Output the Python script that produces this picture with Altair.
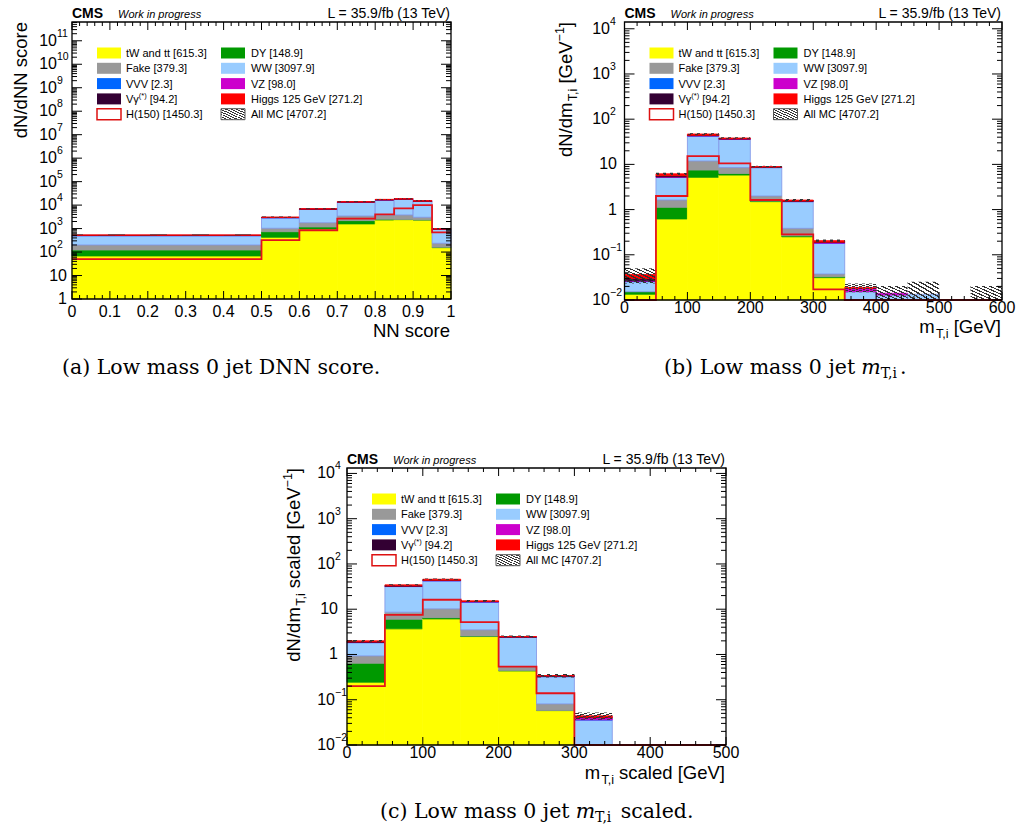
import altair as alt
import pandas as pd

SANS = "Liberation Sans"
SERIF = "DejaVu Serif"

# ---------------- data ----------------
PROCS = ["tW and tt", "DY", "Fake", "WW", "VVV", "VZ", "Vgamma", "Higgs 125 GeV"]
COLORS = ["#ffff00", "#009900", "#999999", "#99ccff", "#0066ff", "#cc00cc", "#330033", "#ff0000"]
STROKES = ["#ffff00", "#009900", "#999999", "#7f93e6", "#0066ff", "#cc00cc", "#330033", "#ff0000"]

# Panel (a): DNN score
A_EDGES = [0, 0.5, 0.6, 0.7, 0.8, 0.85, 0.9, 0.95, 1.0]
A_TW = [68, 426, 960, 1580, 2320, 2400, 2320, 154]
A_DY = [54, 309, 210, 600, 180, 50, 30, 6]
A_FAKE = [78, 295, 610, 1260, 1300, 1350, 680, 76]
A_WW = [300, 1870, 4820, 9760, 12700, 13900, 11470, 694]
A_VVV = [0.5, 2, 4, 6, 8, 8, 6, 0.5]
A_VZ = [8, 40, 90, 200, 250, 250, 200, 15]
A_VG = [10, 50, 100, 150, 150, 150, 100, 10]
A_HIGGS = [20, 100, 250, 500, 650, 700, 600, 40]
A_H150 = [50, 325, 850, 2640, 4060, 7300, 10000, 690]
A_ERR = [25, 150, 300, 600, 700, 750, 650, 50]

# Panel (b): mT,i
B_EDGES = [0, 50, 100, 150, 200, 250, 300, 350, 400, 450, 500, 550, 600]
B_TW = [0.0134, 0.62, 5.18, 5.8, 1.50, 0.25, 0.0312, 0, 0, 0, 0, 0]
B_DY = [0.0018, 0.50, 2.32, 0.5, 0.05, 0.014, 0.0015, 0, 0, 0, 0, 0]
B_FAKE = [0, 0.51, 4.4, 2.2, 0.45, 0.121, 0.0049, 0, 0, 0, 0, 0]
B_WW = [0.0102, 3.55, 30.7, 27.4, 6.5, 1.115, 0.142, 0.0153, 0.0129, 0.0134, 0, 0]
B_VVV = [0.0005, 0.01, 0.03, 0.03, 0.01, 0.005, 0.001, 0, 0, 0, 0, 0]
B_VZ = [0.0005, 0.1, 0.6, 0.6, 0.15, 0.03, 0.008, 0.0027, 0.0012, 0, 0, 0]
B_VG = [0.0033, 0.3, 0.8, 0.3, 0.05, 0.01, 0.002, 0, 0, 0, 0, 0]
B_HIGGS = [0.007, 0.6, 3.0, 1.5, 0.2, 0.08, 0.015, 0.001, 0, 0, 0, 0]
B_H150 = [0, 2.0, 15.3, 10.5, 1.63, 0.284, 0.0172, 0, 0, 0, 0, 0]
B_ERR = [0.0135, 0.35, 2.0, 1.6, 0.4, 0.1, 0.012, 0.0042, 0.0063, 0.012, 0, 0.0204]

# Panel (c): mT,i scaled
C_EDGES = [0, 50, 100, 150, 200, 250, 300, 350, 400, 450, 500]
C_TW = [0.244, 3.68, 6.1, 2.49, 0.434, 0.0575, 0, 0, 0, 0]
C_DY = [0.396, 2.32, 0.4, 0.06, 0.006, 0.0005, 0, 0, 0, 0]
C_FAKE = [0.29, 2.6, 3.7, 0.95, 0.10, 0.023, 0, 0, 0, 0]
C_WW = [0.90, 23.1, 32.3, 10.9, 1.83, 0.243, 0.0357, 0, 0, 0]
C_VVV = [0.002, 0.02, 0.03, 0.01, 0.003, 0.001, 0.0003, 0, 0, 0]
C_VZ = [0.02, 0.3, 0.6, 0.3, 0.05, 0.007, 0.0043, 0, 0, 0]
C_VG = [0.05, 0.8, 0.6, 0.1, 0.02, 0.003, 0.0005, 0, 0, 0]
C_HIGGS = [0.1, 1.7, 2.3, 0.5, 0.05, 0.006, 0.0033, 0, 0, 0]
C_H150 = [0.20, 7.5, 16.2, 5.2, 0.54, 0.139, 0, 0, 0, 0]
C_ERR = [0.08, 1.2, 1.5, 0.6, 0.12, 0.03, 0.008, 0, 0, 0]

# tick labels
A_XTICKS = [0, 0.1, 0.2, 0.3, 0.4, 0.5, 0.6, 0.7, 0.8, 0.9, 1.0]
A_XLABELS = ["0", "0.1", "0.2", "0.3", "0.4", "0.5", "0.6", "0.7", "0.8", "0.9", "1"]
A_XMINOR = [round(i * 0.02, 4) for i in range(51) if i % 5]
B_XTICKS = [0, 100, 200, 300, 400, 500, 600]
B_XLABELS = ["0", "100", "200", "300", "400", "500", "600"]
B_XMINOR = [i * 20 for i in range(31) if i % 5]
C_XTICKS = [0, 100, 200, 300, 400, 500]
C_XLABELS = ["0", "100", "200", "300", "400", "500"]
C_XMINOR = [i * 20 for i in range(26) if i % 5]
A_YLAB = [(1, "1", ""), (10, "10", "")] + [(10.0 ** k, "10", str(k)) for k in range(2, 12)]
BC_YLAB = [(0.01, "10", "\u22122"), (0.1, "10", "\u22121"), (1, "1", ""), (10, "10", ""),
           (100, "10", "2"), (1000, "10", "3"), (10000, "10", "4")]

# legend: (row, col, parts, kind, color)
LEGEND = [
    (0, 0, [("tW and tt [615.3]", "n")], "fill", "#ffff00"),
    (0, 1, [("DY [148.9]", "n")], "fill", "#009900"),
    (1, 0, [("Fake [379.3]", "n")], "fill", "#999999"),
    (1, 1, [("WW [3097.9]", "n")], "fill", "#99ccff"),
    (2, 0, [("VVV [2.3]", "n")], "fill", "#0066ff"),
    (2, 1, [("VZ [98.0]", "n")], "fill", "#cc00cc"),
    (3, 0, [("V\u03b3", "n"), ("(*)", "sup"), (" [94.2]", "n")], "fill", "#330033"),
    (3, 1, [("Higgs 125 GeV [271.2]", "n")], "fill", "#ff0000"),
    (4, 0, [("H(150) [1450.3]", "n")], "line", "#dd1111"),
    (4, 1, [("All MC [4707.2]", "n")], "hatch", "#555555"),
]

# ---------------- helpers ----------------
AR = {' ': 278, '(': 333, ')': 333, ',': 278, '-': 333, '\u2212': 584, '.': 278, '/': 278, '=': 584,
      '[': 278, ']': 278, '*': 389, '\u03b3': 500,
      'A': 667, 'B': 667, 'C': 722, 'D': 722, 'E': 667, 'F': 611, 'G': 778, 'H': 722, 'I': 278,
      'L': 556, 'M': 833, 'N': 722, 'O': 778, 'S': 667, 'T': 611, 'V': 667, 'W': 944,
      'a': 556, 'b': 556, 'c': 500, 'd': 556, 'e': 556, 'f': 278, 'g': 556, 'h': 556, 'i': 222,
      'j': 222, 'k': 500, 'l': 222, 'm': 833, 'n': 556, 'o': 556, 'p': 556, 'r': 333, 's': 500,
      't': 278, 'u': 556, 'v': 500, 'w': 722, 'x': 500, 'y': 500, 'z': 500}
DJS = {' ': 318, '(': 390, ')': 390, '.': 318, ',': 318, '0': 636, 'a': 596, 'b': 640, 'c': 560,
       'd': 640, 'e': 592, 'j': 320, 'l': 320, 'm': 948, 'o': 602, 'r': 478, 's': 513, 't': 402,
       'w': 856, 'L': 637, 'D': 830, 'N': 872, 'T': 735, 'i': 320}


def tw(s, size, table):
    return sum(table.get(ch, 556 if table is AR else 600) for ch in s) / 1000.0 * size


ONE = pd.DataFrame({"k": [0]})


def txt(s, x, y, size, align="left", angle=0, dx=0, dy=0, font=SANS, style="normal",
        weight="normal", baseline="alphabetic", color="black"):
    mk = dict(text=s, align=align, baseline=baseline, dx=dx, dy=dy, font=font, fontSize=size,
              fontStyle=style, fontWeight=weight, color=color)
    if angle:
        mk["angle"] = angle
    return alt.Chart(ONE).mark_text(**mk).encode(x=alt.value(x), y=alt.value(y))


def rich(parts, x, y, align="left", angle=0, font=SANS, table=AR):
    # parts: (text, size, shift, style)
    out = []
    ws = [tw(p[0], p[1], table) for p in parts]
    off = 0.0
    seq = list(zip(parts, ws))
    if align == "right":
        seq = seq[::-1]
    for (t, sz, sh, st), w in seq:
        core = t.strip()
        if align == "left":
            lead = tw(t[:len(t) - len(t.lstrip())], sz, table)
            out.append(txt(core, x, y, sz, "left", angle, off + lead, sh, font, st))
        else:
            trail = tw(t[len(t.rstrip()):], sz, table)
            out.append(txt(core, x, y, sz, "right", angle, -(off + trail), sh, font, st))
        off += w
    return out


def vrect(x, x2, y, y2, **mk):
    return alt.Chart(ONE).mark_rect(**mk).encode(
        x=alt.value(x), x2=alt.value(x2), y=alt.value(y), y2=alt.value(y2))


stops = []
NST = 9
for k in range(NST):
    a, b = k / NST, (k + 0.4) / NST
    stops += [{"offset": a, "color": "rgba(40,40,40,0)"}, {"offset": a, "color": "#333333"},
              {"offset": b, "color": "#333333"}, {"offset": b, "color": "rgba(40,40,40,0)"}]
stops.append({"offset": 1, "color": "rgba(40,40,40,0)"})
HATCH = {"gradient": "linear", "x1": 0, "y1": 1, "x2": 1, "y2": 0, "stops": stops}


def panel(P):
    x0, x1, y0, y1 = P["box"]
    xsc = alt.Scale(domain=P["xdom"], range=[x0, x1], clamp=True, nice=False, zero=False)
    ysc = alt.Scale(type="log", domain=P["ydom"], range=[y1, y0], clamp=True, nice=False)
    floor = P["ydom"][0]
    edges = P["edges"]
    n = len(edges) - 1
    rows, tot = [], []
    for i in range(n):
        c = 0.0
        for name, vals in zip(PROCS, P["comps"]):
            v = vals[i]
            if v <= 0:
                continue
            if c + v > floor:
                rows.append(dict(xa=edges[i], xb=edges[i + 1], ya=max(c, floor), yb=c + v, proc=name))
            c += v
        tot.append(c)
    L = []
    L.append(alt.Chart(pd.DataFrame(rows)).mark_rect(strokeWidth=0.8).encode(
        x=alt.X("xa:Q", scale=xsc, axis=None), x2="xb:Q",
        y=alt.Y("yb:Q", scale=ysc, axis=None), y2="ya:Q",
        fill=alt.Fill("proc:N", scale=alt.Scale(domain=PROCS, range=COLORS), legend=None),
        stroke=alt.Stroke("proc:N", scale=alt.Scale(domain=PROCS, range=STROKES), legend=None)))
    # uncertainty hatch
    hr = [dict(xa=edges[i], xb=edges[i + 1], ya=max(tot[i] - e, floor * 1e-3), yb=tot[i] + e)
          for i, e in enumerate(P["err"]) if e > 0]
    L.append(alt.Chart(pd.DataFrame(hr)).mark_rect(fill=HATCH).encode(
        x=alt.X("xa:Q", scale=xsc, axis=None), x2="xb:Q",
        y=alt.Y("yb:Q", scale=ysc, axis=None), y2="ya:Q"))
    # H(150) outline
    h = [v if v > 0 else floor * 1e-3 for v in P["h150"]]
    hdf = pd.DataFrame({"x": list(edges), "y": h + [h[-1]], "i": list(range(n + 1))})
    L.append(alt.Chart(hdf).mark_line(interpolate="step-after", color="#e3131b", strokeWidth=1.8).encode(
        x=alt.X("x:Q", scale=xsc, axis=None), y=alt.Y("y:Q", scale=ysc, axis=None), order="i:Q"))
    # frame
    L.append(vrect(x0, x1, y0, y1, fillOpacity=0, stroke="black", strokeWidth=1.3))
    # ticks
    lo, hi = P["ydom"]
    kmin, kmax = -3, 13
    ymaj = [10.0 ** k for k in range(kmin, kmax) if lo <= 10.0 ** k <= hi]
    ymin = [m * 10.0 ** k for k in range(kmin, kmax) for m in range(2, 10) if lo < m * 10.0 ** k < hi]
    for vals, ln in ((ymaj, 10), (ymin, 5)):
        d = pd.DataFrame({"v": vals})
        for xa, xb in ((x0, x0 + ln), (x1 - ln, x1)):
            L.append(alt.Chart(d).mark_rule(color="black", strokeWidth=1).encode(
                y=alt.Y("v:Q", scale=ysc, axis=None), x=alt.value(xa), x2=alt.value(xb)))
    for vals, ln in ((P["xmaj"], 8), (P["xmin"], 4)):
        d = pd.DataFrame({"v": vals})
        for ya, yb in ((y1, y1 - ln), (y0, y0 + ln)):
            L.append(alt.Chart(d).mark_rule(color="black", strokeWidth=1).encode(
                x=alt.X("v:Q", scale=xsc, axis=None), y=alt.value(ya), y2=alt.value(yb)))
    # x labels
    L.append(alt.Chart(pd.DataFrame({"v": P["xmaj"], "t": P["xlab"]})).mark_text(
        align="center", baseline="alphabetic", font=SANS, fontSize=16).encode(
        x=alt.X("v:Q", scale=xsc, axis=None), y=alt.value(y1 + P["xlab_dy"]), text="t:N"))
    # y labels
    plain = pd.DataFrame([(v, s) for v, s, e in P["ylab"] if not e], columns=["v", "t"])
    expo = pd.DataFrame([(v, s, e) for v, s, e in P["ylab"] if e], columns=["v", "t", "e"])
    L.append(alt.Chart(plain).mark_text(align="right", baseline="middle", font=SANS, fontSize=16).encode(
        y=alt.Y("v:Q", scale=ysc, axis=None), x=alt.value(x0 - P["plain_gap"]), text="t:N"))
    L.append(alt.Chart(expo).mark_text(align="right", baseline="middle", font=SANS, fontSize=16).encode(
        y=alt.Y("v:Q", scale=ysc, axis=None), x=alt.value(x0 - P["base_gap"]), text="t:N"))
    L.append(alt.Chart(expo).mark_text(align="left", baseline="middle", font=SANS, fontSize=10.5, dy=-7).encode(
        y=alt.Y("v:Q", scale=ysc, axis=None), x=alt.value(x0 - P["base_gap"]), text="e:N"))
    # header
    L.append(txt("CMS", x0, y0 - 4, 14, weight="bold"))
    L.append(txt("Work in progress", x0 + 46, y0 - 4, 11, style="italic"))
    L.append(txt("L = 35.9/fb (13 TeV)", x1 - 1, y0 - 4, 14, align="right"))
    # axis titles
    L += rich(P["xtitle"], x1 - 1, y1 + P["xtitle_dy"], align="right")
    L += rich(P["ytitle"], x0 - P["ytitle_dx"], y0, align="right", angle=270)
    # legend
    for r, c, parts, kind, col in LEGEND:
        cy = y0 + 31 + 15.3 * r
        bx = x0 + (25 if c == 0 else 149)
        tx = x0 + (54 if c == 0 else 179)
        if kind == "fill":
            L.append(vrect(bx, bx + 24, cy - 5.5, cy + 5.5, fill=col))
        elif kind == "line":
            L.append(vrect(bx, bx + 24, cy - 5.5, cy + 5.5, fill="white", stroke=col, strokeWidth=1.5))
        else:
            L.append(vrect(bx, bx + 24, cy - 5.5, cy + 5.5, fill=HATCH, stroke=col, strokeWidth=1))
        pp = []
        for t, role in parts:
            if role == "sup":
                pp.append((t, 7.5, -5, "normal"))
            else:
                pp.append((t, 11, 0, "normal"))
        L += rich(pp, tx, cy + 4, align="left")
    return alt.layer(*L)


SUB = 12.5
PA = dict(box=(72, 451, 22, 299), xdom=[0, 1], ydom=[1, 10 ** 11.8], edges=A_EDGES,
          comps=[A_TW, A_DY, A_FAKE, A_WW, A_VVV, A_VZ, A_VG, A_HIGGS], h150=A_H150, err=A_ERR,
          xmaj=A_XTICKS, xmin=A_XMINOR, xlab=A_XLABELS, ylab=A_YLAB, plain_gap=5, base_gap=15,
          xlab_dy=18, xtitle=[("NN score", 18.5, 0, "normal")], xtitle_dy=38,
          ytitle=[("dN/dNN score", 18.5, 0, "normal")], ytitle_dx=45)
PB = dict(box=(624.5, 1002, 22, 300), xdom=[0, 600], ydom=[0.01, 10 ** 4.15], edges=B_EDGES,
          comps=[B_TW, B_DY, B_FAKE, B_WW, B_VVV, B_VZ, B_VG, B_HIGGS], h150=B_H150, err=B_ERR,
          xmaj=B_XTICKS, xmin=B_XMINOR, xlab=B_XLABELS, ylab=BC_YLAB, plain_gap=7.5, base_gap=14.5,
          xlab_dy=13,
          xtitle=[("m", 18.5, 0, "normal"), ("T,i", SUB, 5, "normal"), (" [GeV]", 18.5, 0, "normal")],
          xtitle_dy=33,
          ytitle=[("dN/dm", 18.5, 0, "normal"), ("T,i", SUB, 5, "normal"), (" [GeV", 18.5, 0, "normal"),
                  ("\u22121", SUB, -8, "normal"), ("]", 18.5, 0, "normal")], ytitle_dx=53)
PC = dict(box=(347, 726, 468, 745), xdom=[0, 500], ydom=[0.01, 10 ** 4.12], edges=C_EDGES,
          comps=[C_TW, C_DY, C_FAKE, C_WW, C_VVV, C_VZ, C_VG, C_HIGGS], h150=C_H150, err=C_ERR,
          xmaj=C_XTICKS, xmin=C_XMINOR, xlab=C_XLABELS, ylab=BC_YLAB, plain_gap=9, base_gap=12,
          xlab_dy=13,
          xtitle=[("m", 18.5, 0, "normal"), ("T,i", SUB, 5, "normal"), (" scaled [GeV]", 18.5, 0, "normal")],
          xtitle_dy=34,
          ytitle=[("dN/dm", 18.5, 0, "normal"), ("T,i", SUB, 5, "normal"),
                  (" scaled [GeV", 18.5, 0, "normal"), ("\u22121", SUB, -8, "normal"),
                  ("]", 18.5, 0, "normal")], ytitle_dx=47)

CAP = 20.5
captions = []
captions += rich([("(a) Low mass 0 jet DNN score.", CAP, 0, "normal")], 62, 374, font=SERIF, table=DJS)
captions += rich([("(b) Low mass 0 jet ", CAP, 0, "normal"), ("m", CAP, 0, "italic"),
                  ("T,i", 14, 4, "normal"), (".", CAP, 0, "normal")], 664, 374, font=SERIF, table=DJS)
captions += rich([("(c) Low mass 0 jet ", CAP, 0, "normal"), ("m", CAP, 0, "italic"),
                  ("T,i", 14, 4, "normal"), (" scaled.", CAP, 0, "normal")], 380, 818, font=SERIF, table=DJS)

chart = alt.layer(panel(PA), panel(PB), panel(PC), *captions).resolve_scale(
    x="independent", y="independent"
).properties(
    width=1016, height=828, padding=0, background="white",
    autosize=alt.AutoSizeParams(type="none")
).configure_view(stroke=None)

chart.save("out.html", embed_options={"renderer": "svg", "actions": False})
